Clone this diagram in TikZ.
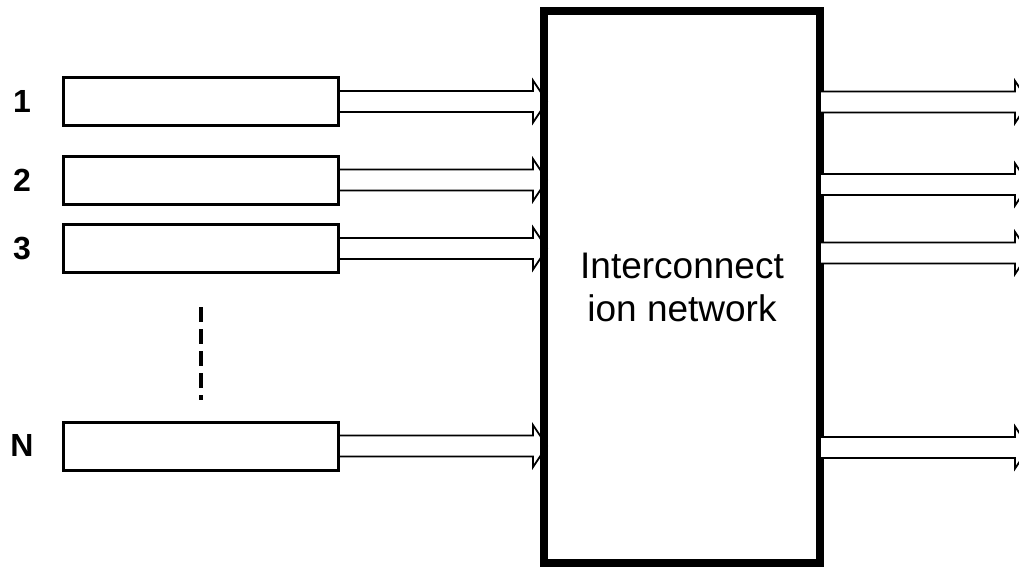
\documentclass[tikz,border=0pt]{standalone}
\usepackage{fontspec}
\setmainfont{Liberation Sans}
\usetikzlibrary{calc}
\tikzset{
  portbox/.style={rectangle, draw=black, line width=3pt, inner sep=0pt,
                  outer sep=0pt, minimum width=275pt, minimum height=48pt},
  netbox/.style={rectangle, draw=black, line width=8pt, inner sep=0pt,
                 outer sep=0pt, minimum width=276pt, minimum height=552pt,
                 align=center, font=\fontsize{37}{43}\selectfont},
  portlabel/.style={font=\fontsize{32}{36}\selectfont\bfseries},
  arrowline/.style={draw=black, line width=1.8pt, line join=miter},
  dotline/.style={line width=4pt, dash pattern=on 15pt off 7pt},
}
% block arrow from #1 to the tip #2 (shaft 21, head 42 wide, 14 long)
\newcommand{\blockarrow}[3][]{%
  \draw[arrowline,#1] let \p1=(#2), \p2=(#3) in
    (\x1,\y1+10.5pt) -- (\x2-14pt,\y1+10.5pt) -- (\x2-14pt,\y1+21pt)
    -- (\x2,\y1) -- (\x2-14pt,\y1-21pt) -- (\x2-14pt,\y1-10.5pt)
    -- (\x1,\y1-10.5pt) -- cycle;}

\begin{document}
\begin{tikzpicture}[x=1pt, y=-1pt]
  \useasboundingbox (0,0) rectangle (1019,566);
  \clip (0,0) rectangle (1019,566);

  % Network
  \node[netbox] (net) at (682,287) {Interconnect\\ion network};

  % Input ports
  \node[portbox] (b1) at (201,101.5) {};
  \node[portbox] (b2) at (201,180) {};
  \node[portbox] (b3) at (201,248.5) {};
  \node[portbox] (bN) at (201,446) {};

  \node[portlabel] (l1) at (22,101) {1};
  \node[portlabel] (l2) at (22,180) {2};
  \node[portlabel] (l3) at (22,248) {3};
  \node[portlabel] (lN) at (22,445) {N};

  % Dots between 3 and N
  \coordinate (dtop) at (201,307);
  \coordinate (dbot) at (201,400);
  \draw[dotline] (dtop) -- (dbot);

  % Inputs into the network
  \blockarrow{b1.east}{$(net.west |- b1.east)+(3,0)$}
  \blockarrow{b2.east}{$(net.west |- b2.east)+(3,0)$}
  \blockarrow{b3.east}{$(net.west |- b3.east)+(3,0)$}
  \blockarrow{bN.east}{$(net.west |- bN.east)+(3,0)$}

  % Outputs
  \coordinate (r1) at (1029,102);
  \coordinate (r2) at (1029,184.5);
  \coordinate (r3) at (1029,253);
  \coordinate (rN) at (1029,447.5);
  \blockarrow[fill=white]{net.east |- r1}{r1}
  \blockarrow[fill=white]{net.east |- r2}{r2}
  \blockarrow[fill=white]{net.east |- r3}{r3}
  \blockarrow[fill=white]{net.east |- rN}{rN}
\end{tikzpicture}
\end{document}
